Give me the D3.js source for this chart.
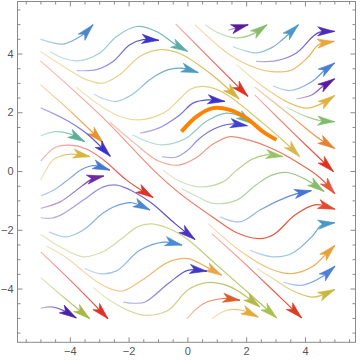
<!DOCTYPE html>
<html><head><meta charset="utf-8">
<script src="https://cdn.jsdelivr.net/npm/d3@7"></script>
<style>html,body{margin:0;padding:0;background:#fff}</style>
</head><body>
<svg id="chart" width="360" height="360"></svg>
<script>
// ---- data: each stream is a list of [x, y]; last point = arrow tip ----
const streamLines = [
  [[-5.0,4.49],[-4.6,4.37],[-4.23,4.32],[-3.78,4.5],[-3.45,4.72],[-3.21,4.98]],
  [[-4.68,4.07],[-4.2,3.83],[-3.72,3.75],[-2.98,4.02],[-2.41,4.58],[-1.73,4.92],[-1.05,4.75],[-0.4,4.3],[0.01,4.07]],
  [[-3.76,3.42],[-3.10,3.45],[-2.53,3.73],[-1.96,4.30],[-1.51,4.47],[-0.97,4.45]],
  [[-5.0,4.07],[-4.12,3.50],[-3.44,3.11],[-2.87,2.99],[-2.30,3.28],[-1.62,3.90],[-0.94,4.13],[-0.26,4.0],[0.83,3.28],[1.76,2.45]],
  [[-3.18,2.62],[-2.91,2.48],[-2.41,2.37],[-1.85,2.62],[-1.28,3.11],[-0.65,3.45],[-0.2,3.5],[0.37,3.35]],
  [[-3.79,2.86],[-2.91,2.19],[-2.25,1.84],[-1.67,1.74],[-1.1,1.85],[-0.65,2.08],[-0.26,2.45],[0.1,2.78],[0.5,2.88],[1.0,2.78],[1.44,2.54],[2.57,1.63],[3.48,0.83],[3.82,0.49]],
  [[-5.0,3.75],[-2.91,1.85],[-1.10,-0.02],[-0.26,-0.76],[0.88,-1.58],[1.68,-2.1],[2.47,-2.3],[2.95,-2.15],[3.66,-1.5],[4.34,-1.15],[5.02,-1.3]],
  [[-2.64,1.66],[-1.8,0.95],[-1.0,0.35],[-0.3,0.2],[0.3,0.45],[0.85,0.9],[1.45,1.17],[2.1,1.05],[2.8,0.8],[3.48,0.45],[4.5,-0.22],[5.02,-0.78]],
  [[-5.0,2.94],[-3.9,1.96],[-2.87,0.97]],
  [[-4.99,2.15],[-4.11,1.73],[-3.43,1.28],[-2.62,0.5]],
  [[-4.99,1.2],[-4.5,1.34],[-4.05,1.28],[-3.49,1.0]],
  [[-4.99,0.34],[-4.5,0.8],[-4.0,0.88],[-3.44,0.75],[-2.88,0.4],[-2.07,-0.31],[-1.17,-0.9]],
  [[-4.99,-0.31],[-4.8,0.05],[-4.57,0.38],[-4.12,0.56],[-3.7,0.56],[-3.31,0.49]],
  [[-4.99,-0.85],[-4.5,-0.62],[-4.0,-0.25],[-3.6,0.05],[-3.25,0.18],[-2.9,0.13],[-2.64,0.03]],
  [[-4.99,-1.27],[-4.33,-1.05],[-3.77,-0.65],[-3.31,-0.31],[-3.05,-0.2],[-2.84,-0.17]],
  [[-4.99,-1.59],[-4.6,-1.6],[-4.22,-1.45],[-3.54,-0.99],[-2.88,-0.55],[-2.4,-0.48],[-1.8,-0.72],[-1.21,-1.1],[-0.42,-1.79],[0.26,-2.33]],
  [[-4.71,-2.07],[-4.11,-2.24],[-3.54,-2.01],[-2.88,-1.44],[-2.46,-1.2],[-1.89,-1.08],[-1.27,-1.33]],
  [[-4.99,-2.15],[-4.33,-2.58],[-3.54,-2.92],[-2.88,-2.75],[-2.23,-2.3],[-1.7,-1.9],[-1.25,-1.8],[-0.65,-1.95],[0.0,-2.32],[1.0,-3.2],[2.0,-4.08],[3.04,-5.0]],
  [[-3.49,-3.32],[-2.95,-3.5],[-2.41,-3.4],[-1.62,-2.7],[-0.8,-2.42],[-0.18,-2.52]],
  [[-4.79,-2.56],[-4.11,-2.95],[-3.5,-3.45],[-2.88,-3.89],[-2.23,-4.09],[-1.55,-3.72],[-0.65,-3.1],[0.01,-2.98],[0.66,-3.27],[1.17,-3.55]],
  [[-2.18,-4.46],[-1.8,-4.5],[-1.44,-4.46],[-0.65,-3.83],[0.01,-3.38],[0.66,-3.41]],
  [[-3.21,-3.97],[-2.64,-4.4],[-2.0,-4.75],[-1.44,-4.91],[-0.65,-4.74],[0.01,-4.05],[0.66,-3.8],[1.2,-3.85],[1.68,-4.06],[2.47,-4.63]],
  [[-4.99,-2.75],[-3.85,-3.85],[-2.7,-5.03]],
  [[-4.99,-3.63],[-4.15,-4.35],[-3.32,-5.03]],
  [[-4.99,-4.67],[-4.56,-4.63],[-4.15,-4.78],[-3.78,-5.0]],
  [[-0.02,-5.03],[0.54,-4.52],[1.22,-4.34],[1.79,-4.4]],
  [[0.83,-5.03],[1.34,-4.74],[1.85,-4.74],[2.41,-4.97]],
  [[0.71,-1.79],[1.8,-2.72],[2.87,-3.35],[3.55,-3.49],[4.23,-3.27],[4.68,-2.87],[5.02,-2.53]],
  [[0.83,-2.13],[1.9,-3.1],[2.9,-4.05],[3.89,-5.0]],
  [[2.13,-2.7],[2.9,-2.92],[3.55,-2.81],[4.23,-2.24],[4.57,-1.84],[5.02,-1.76]],
  [[3.27,-3.78],[3.89,-3.89],[4.57,-3.61],[5.02,-3.24]],
  [[2.36,-3.32],[2.9,-3.65],[3.55,-4.06],[4.23,-4.29],[4.57,-4.23],[5.02,-4.03]],
  [[1.11,-1.56],[1.79,-1.73],[2.47,-1.33],[3.14,-0.99],[3.7,-0.78],[4.22,-0.67]],
  [[-0.2,-0.6],[0.3,-0.85],[0.88,-1.1],[1.68,-0.99],[2.3,-0.5],[2.85,-0.15],[3.4,-0.05],[4.05,-0.3],[4.65,-0.7]],
  [[-0.83,0.03],[-0.26,-0.35],[0.42,-0.54],[1.21,-0.37],[1.68,0.03],[2.2,0.4],[2.69,0.55],[3.25,0.49]],
  [[1.39,4.79],[1.7,4.88],[2.07,4.98]],
  [[0.6,4.98],[1.1,4.68],[1.68,4.53],[2.2,4.65],[2.71,4.98]],
  [[1.55,4.24],[2.0,4.08],[2.35,4.02],[2.87,4.2],[3.21,4.45],[3.78,4.98]],
  [[2.33,3.73],[3.03,3.76],[3.71,4.02],[4.27,4.58],[4.5,4.73],[5.01,4.75]],
  [[0.26,4.98],[1.44,3.96],[2.35,3.5],[2.87,3.38],[3.55,3.44],[4.12,3.89],[4.46,4.3],[5.0,4.41]],
  [[2.91,2.9],[3.48,2.74],[4.23,3.04],[4.68,3.44],[5.01,3.68]],
  [[3.71,2.46],[4.23,2.59],[4.57,2.85],[5.01,3.14]],
  [[1.67,3.62],[2.57,2.88],[3.48,2.31],[4.05,2.14],[4.61,2.31],[5.01,2.57]],
  [[3.37,2.17],[4.05,1.85],[4.5,1.72],[5.01,1.68]],
  [[2.29,2.86],[3.48,1.91],[4.39,1.17],[5.01,0.77]],
  [[2.29,2.59],[3.6,1.3],[4.97,-0.02]],
  [[-0.4,5.01],[0.8,3.8],[2.06,2.54]],
  [[-1.61,1.29],[-1.0,1.45],[-0.26,1.91],[0.19,2.31],[0.70,2.42],[1.27,2.37]],
  [[-0.87,0.49],[-0.4,0.47],[0.0,0.7],[0.4,1.1],[0.9,1.43],[1.5,1.6],[2.04,1.54]],
  [[-1.87,1.23],[-1.3,0.98],[-0.87,0.89],[-0.3,1.0],[0.01,1.15],[0.66,1.7],[1.34,1.97],[1.8,1.87],[2.24,1.60]]
];
const streamColors = [
  "#4a88cc","#5aaea9","#3b34c8","#d4b440","#4c9cbc","#d8b84c","#e2492f","#e5583a",
  "#e8922e","#3a30c8","#5cb09a","#e03028","#d8b440","#4478d8","#6e2a9e","#4a34c0",
  "#4a88d0","#a8c050","#4a8ad4","#e8a648","#4038c8","#b4b84a","#e03028","#a8b848",
  "#4a22b0","#e05a28","#e8a838","#e8a038","#e03a22","#4a98c8","#4a80d8","#c8b840",
  "#4474d4","#86bc6a","#98c466","#5a1a9a","#86bc6a","#4a98c8","#4a2cb8","#e8a840",
  "#4a80d0","#5a1aa0","#e0b040","#82bc6a","#e88030","#e03020","#e03020","#4030c8",
  "#4040d0","#62b5a2"
];
const highlightLine = [[-0.2,1.34],[0.31,1.85],[0.87,2.14],[1.44,2.08],[2.01,1.80],[2.57,1.34],[3.03,1.06]];
const majorTicks = [-4,-2,0,2,4];
const majorLabels = ["\u22124","\u22122","0","2","4"];
const minorTicks = [-5.5,-5,-4.5,-3.5,-3,-2.5,-1.5,-1,-0.5,0.5,1,1.5,2.5,3,3.5,4.5,5,5.5];

// ---- drawing ----
const svg = d3.select("#chart");
const x = d3.scaleLinear().domain([-5.78,5.72]).range([17.5,355.5]);
const y = d3.scaleLinear().domain([-5.83,5.77]).range([342.3,1.5]);
const L = 17, HW = 4.6;

const defs = svg.append("defs");
const line = d3.line().x(d=>x(d[0])).y(d=>y(d[1])).curve(d3.curveCatmullRom.alpha(0.5));
const gStreams = svg.append("g");

streamLines.forEach((pts,i)=>{
  const col = streamColors[i % streamColors.length];
  const p0 = pts[0], p1 = pts[pts.length-1];
  const gid = "fade"+i;
  const gr = defs.append("linearGradient").attr("id",gid).attr("gradientUnits","userSpaceOnUse")
    .attr("x1",x(p0[0])).attr("y1",y(p0[1])).attr("x2",x(p1[0])).attr("y2",y(p1[1]));
  gr.append("stop").attr("offset","0%").attr("stop-color",col).attr("stop-opacity",0.35);
  gr.append("stop").attr("offset","100%").attr("stop-color",col).attr("stop-opacity",1);
  const path = gStreams.append("path").datum(pts).attr("d",line)
    .attr("fill","none").attr("stroke","url(#"+gid+")").attr("stroke-width",1.2);
  const node = path.node();
  const len = node.getTotalLength();
  const a = node.getPointAtLength(Math.max(0,len-10));
  const b = node.getPointAtLength(len);
  const ang = Math.atan2(b.y-a.y, b.x-a.x)*180/Math.PI;
  gStreams.append("path")
    .attr("d",`M0,0L${-L},${HW}L${-0.74*L},0L${-L},${-HW}Z`)
    .attr("transform",`translate(${b.x},${b.y}) rotate(${ang})`)
    .attr("fill",col).attr("stroke",col).attr("stroke-width",0.6).attr("stroke-linejoin","round");
});

svg.append("path").datum(highlightLine).attr("d",line)
  .attr("fill","none").attr("stroke","#ff8200").attr("stroke-width",4).attr("stroke-linecap","butt");

// frame + ticks
const fc = "#8a8a8a";
svg.append("rect").attr("x",17.5).attr("y",1.5).attr("width",338).attr("height",340.8)
  .attr("fill","none").attr("stroke",fc).attr("stroke-width",1);

function axisGroup(axis, tx, ty, labels){
  const g = svg.append("g").attr("transform",`translate(${tx},${ty})`).call(axis);
  g.select(".domain").remove();
  g.selectAll("line").attr("stroke",fc);
  g.selectAll("text").attr("fill","#555").style("font-family","'Liberation Sans', Arial, sans-serif").style("font-size","11px");
  return g;
}
const lab = d => majorLabels[majorTicks.indexOf(d)];
axisGroup(d3.axisBottom(x).tickValues(majorTicks).tickFormat(lab).tickSizeInner(-5).tickSizeOuter(0).tickPadding(5), 0, 342.3);
axisGroup(d3.axisBottom(x).tickValues(minorTicks).tickFormat("").tickSizeInner(-3).tickSizeOuter(0), 0, 342.3);
axisGroup(d3.axisTop(x).tickValues(majorTicks).tickFormat("").tickSizeInner(-5).tickSizeOuter(0), 0, 1.5);
axisGroup(d3.axisTop(x).tickValues(minorTicks).tickFormat("").tickSizeInner(-3).tickSizeOuter(0), 0, 1.5);
axisGroup(d3.axisLeft(y).tickValues(majorTicks).tickFormat(lab).tickSizeInner(-5).tickSizeOuter(0).tickPadding(4), 17.5, 0);
axisGroup(d3.axisLeft(y).tickValues(minorTicks).tickFormat("").tickSizeInner(-3).tickSizeOuter(0), 17.5, 0);
axisGroup(d3.axisRight(y).tickValues(majorTicks).tickFormat("").tickSizeInner(-5).tickSizeOuter(0), 355.5, 0);
axisGroup(d3.axisRight(y).tickValues(minorTicks).tickFormat("").tickSizeInner(-3).tickSizeOuter(0), 355.5, 0);
</script>
</body></html>
